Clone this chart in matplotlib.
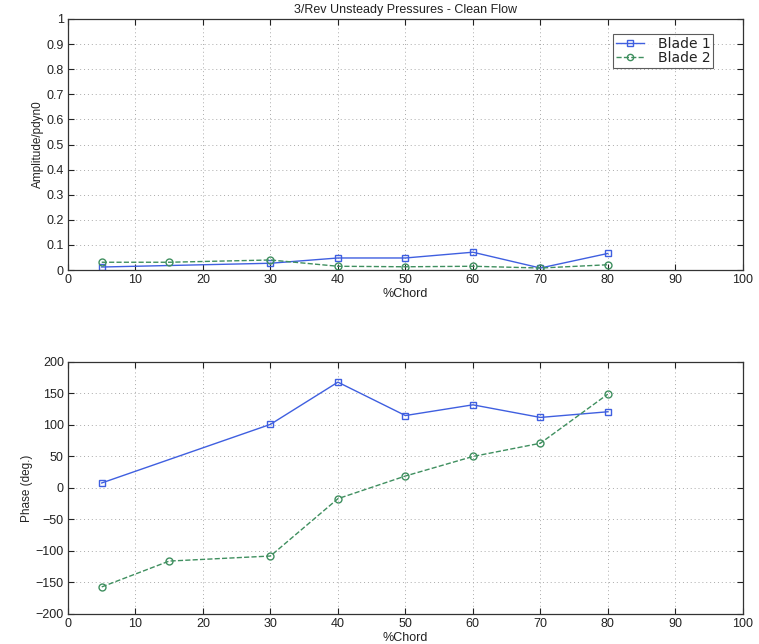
import matplotlib
matplotlib.use("Agg")
import matplotlib.pyplot as plt
from matplotlib.ticker import FuncFormatter

chord_b1 = [5, 30, 40, 50, 60, 70, 80]
chord_b2 = [5, 15, 30, 40, 50, 60, 70, 80]
amp_b1 = [0.012, 0.027, 0.048, 0.048, 0.071, 0.008, 0.066]
amp_b2 = [0.031, 0.031, 0.040, 0.015, 0.013, 0.015, 0.008, 0.021]
phase_b1 = [8, 101, 168, 115, 132, 112, 121]
phase_b2 = [-157, -116, -108, -17, 19, 50, 71, 149]

title = "3/Rev Unsteady Pressures - Clean Flow"
labels = ["Blade 1", "Blade 2"]

plt.rcParams['font.family'] = ['Liberation Sans', 'DejaVu Sans']
txt = '#222222'
c1 = '#3f5fe0'
c2 = '#3f8f5f'

fig = plt.figure(figsize=(7.59, 6.44), dpi=100)
ax1 = fig.add_axes([0.0896, 0.5807, 0.889, 0.3898])
ax2 = fig.add_axes([0.0896, 0.0466, 0.889, 0.3913])

def style(ax):
    ax.set_xlim(0, 100)
    ax.set_xticks(range(0, 101, 10))
    ax.tick_params(direction='in', top=True, right=True, labelsize=9,
                   colors=txt, length=4, width=0.8, pad=3)
    ax.grid(True, linestyle=(0, (1, 3)), color='#aaaaaa', linewidth=0.7)
    for s in ax.spines.values():
        s.set_color('#333333')
        s.set_linewidth(0.9)
    ax.set_xlabel('%Chord', fontsize=9, color=txt, labelpad=1)

ax1.plot(chord_b1, amp_b1, '-s', color=c1, mfc='none', ms=5, lw=1.0, label=labels[0])
ax1.plot(chord_b2, amp_b2, '--o', color=c2, mfc='none', ms=5, lw=1.0, label=labels[1])
style(ax1)
ax1.set_ylim(0, 1)
ax1.set_yticks([i / 10 for i in range(11)])
ax1.yaxis.set_major_formatter(FuncFormatter(lambda v, p: f"{v:g}"))
ax1.set_ylabel('Amplitude/pdyn0', fontsize=8.5, color=txt, labelpad=2)
ax1.set_title(title, fontsize=9, color=txt, pad=4)
leg = ax1.legend(loc='upper right', bbox_to_anchor=(0.956, 0.94),
                 prop={'family': 'DejaVu Sans', 'size': 10},
                 frameon=True, fancybox=False, edgecolor='#333333',
                 handlelength=2.0, handletextpad=1.0, borderpad=0.2,
                 labelspacing=0.02, borderaxespad=0.0, markerscale=0.9)
leg.get_frame().set_linewidth(0.8)
for t in leg.get_texts():
    t.set_color(txt)

ax2.plot(chord_b1, phase_b1, '-s', color=c1, mfc='none', ms=5, lw=1.0)
ax2.plot(chord_b2, phase_b2, '--o', color=c2, mfc='none', ms=5, lw=1.0)
style(ax2)
ax2.set_ylim(-200, 200)
ax2.set_yticks(range(-200, 201, 50))
ax2.set_ylabel('Phase (deg.)', fontsize=8.5, color=txt, labelpad=2)

fig.savefig('out.png', dpi=100)
